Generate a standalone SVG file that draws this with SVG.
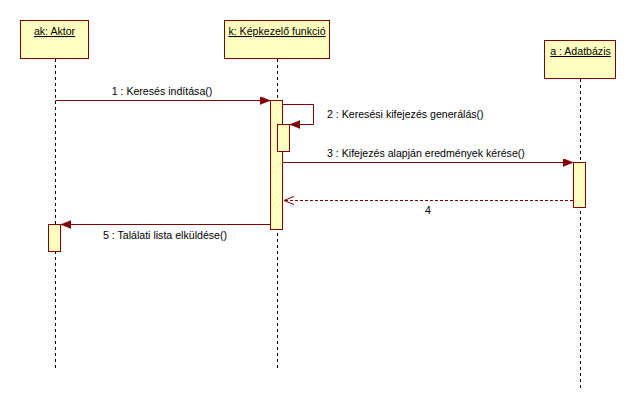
<svg xmlns="http://www.w3.org/2000/svg" width="636" height="409" viewBox="0 0 636 409">
<style>
.box{fill:#FFFFC0;stroke:#800000;stroke-width:1}
.life{stroke:#000;stroke-width:1;stroke-dasharray:3,3;fill:none}
.msg{stroke:#800000;stroke-width:1;fill:none}
.ret{stroke:#800000;stroke-width:1;fill:none;stroke-dasharray:3,2}
text{font-family:"Liberation Sans",Arial,sans-serif;font-size:10.6px;fill:#000}
.title{text-decoration:underline;text-anchor:middle}
</style>
<defs>
<marker id="filled" markerUnits="userSpaceOnUse" markerWidth="11" markerHeight="9" refX="10" refY="4" orient="auto">
<path d="M0,0 L10,4 L0,8 z" fill="#800000" stroke="#800000" stroke-width="0.5"/>
</marker>
<marker id="open" markerUnits="userSpaceOnUse" markerWidth="12" markerHeight="10" refX="10" refY="4.5" orient="auto">
<path d="M0,0.5 L10,4.5 L0,8.5" fill="none" stroke="#800000" stroke-width="1"/>
</marker>
</defs>
<rect width="636" height="409" fill="#fff"/>
<g id="node-aktor">
<line class="life" x1="55.5" y1="59" x2="55.5" y2="369"/>
<rect class="box" x="20.5" y="20.5" width="68" height="38"/>
<text class="title" x="54.5" y="35">ak: Aktor</text>
<rect class="box" x="48.5" y="224.5" width="12" height="27"/>
</g>
<g id="node-kepkezelo">
<line class="life" x1="277.5" y1="59" x2="277.5" y2="369"/>
<rect class="box" x="224.5" y="20.5" width="105" height="38"/>
<text class="title" x="277" y="35">k: Képkezelő funkció</text>
<rect class="box" x="270.5" y="100.5" width="12" height="129"/>
<rect class="box" x="277.5" y="124.5" width="12" height="27"/>
</g>
<g id="node-adatbazis">
<line class="life" x1="580.5" y1="79" x2="580.5" y2="389"/>
<rect class="box" x="544.5" y="40.5" width="71" height="38"/>
<text class="title" x="580.5" y="55">a : Adatbázis</text>
<rect class="box" x="573.5" y="162.5" width="12" height="45"/>
</g>
<g id="connectors">
<line class="msg" x1="55.5" y1="100.5" x2="270" y2="100.5" marker-end="url(#filled)"/>
<text x="162" y="95" text-anchor="middle">1 : Keresés indítása()</text>
<polyline class="msg" points="282.5,104.5 313.5,104.5 313.5,124.5 290,124.5" marker-end="url(#filled)"/>
<text x="327" y="118">2 : Keresési kifejezés generálás()</text>
<line class="msg" x1="282.5" y1="162.5" x2="573" y2="162.5" marker-end="url(#filled)"/>
<text x="327" y="157">3 : Kifejezés alapján eredmények kérése()</text>
<line class="ret" x1="573" y1="200.5" x2="284" y2="200.5" marker-end="url(#open)"/>
<text x="428" y="214" text-anchor="middle">4</text>
<line class="msg" x1="270.5" y1="224.5" x2="61" y2="224.5" marker-end="url(#filled)"/>
<text x="165" y="239" text-anchor="middle">5 : Találati lista elküldése()</text>
</g>
</svg>
